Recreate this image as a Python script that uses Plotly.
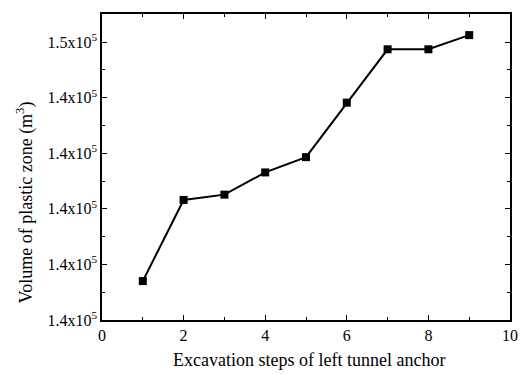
import plotly.graph_objects as go

steps = [1, 2, 3, 4, 5, 6, 7, 8, 9]
volume = [137400, 140320, 140510, 141310, 141860, 143820, 145740, 145740, 146250]
y_tick_vals = [136000, 138000, 140000, 142000, 144000, 146000]
y_tick_text = ["1.4x10<sup>5</sup>", "1.4x10<sup>5</sup>", "1.4x10<sup>5</sup>",
               "1.4x10<sup>5</sup>", "1.4x10<sup>5</sup>", "1.5x10<sup>5</sup>"]
x_tick_vals = [0, 2, 4, 6, 8, 10]
x_title = "Excavation steps of left tunnel anchor"
y_title = "Volume of plastic zone (m<sup>3</sup>)"

font = "Liberation Serif, Times New Roman, serif"

fig = go.Figure(go.Scatter(
    x=steps, y=volume, mode="lines+markers",
    line=dict(color="black", width=2),
    marker=dict(symbol="square", size=8, color="black"),
))

L, R, T, B = 102, 10, 14, 54
W, H = 528, 374
pw, ph = W - L - R, H - T - B

fig.update_layout(
    width=W, height=H,
    margin=dict(l=L, r=R, t=T, b=B),
    paper_bgcolor="white", plot_bgcolor="white",
    showlegend=False,
    font=dict(family=font, size=16, color="black"),
)
fig.update_xaxes(
    range=[0, 10], tickvals=x_tick_vals,
    showline=True, linecolor="black", linewidth=1.5, mirror="ticks",
    ticks="inside", ticklen=5, tickcolor="black",
    minor=dict(ticks="inside", dtick=1, ticklen=3, tickcolor="black"),
    showgrid=False, zeroline=False,
    tickfont=dict(family=font, size=16),
)
fig.update_yaxes(
    range=[136000, 147010], tickvals=y_tick_vals, ticktext=y_tick_text,
    showline=True, linecolor="black", linewidth=1.5, mirror="ticks",
    ticks="inside", ticklen=5, tickcolor="black",
    minor=dict(ticks="inside", dtick=1000, tick0=137000, ticklen=3, tickcolor="black"),
    showgrid=False, zeroline=False,
    tickfont=dict(family=font, size=16),
)
fig.add_annotation(
    text=x_title, xref="paper", yref="paper",
    x=(313 - L) / pw, y=(H - B - 360) / ph,
    xanchor="center", yanchor="middle", showarrow=False,
    font=dict(family=font, size=18),
)
fig.add_annotation(
    text=y_title, xref="paper", yref="paper", textangle=-90,
    x=(24 - L) / pw, y=(H - B - 203) / ph,
    xanchor="center", yanchor="middle", showarrow=False,
    font=dict(family=font, size=18),
)

fig.write_html("out.html")
